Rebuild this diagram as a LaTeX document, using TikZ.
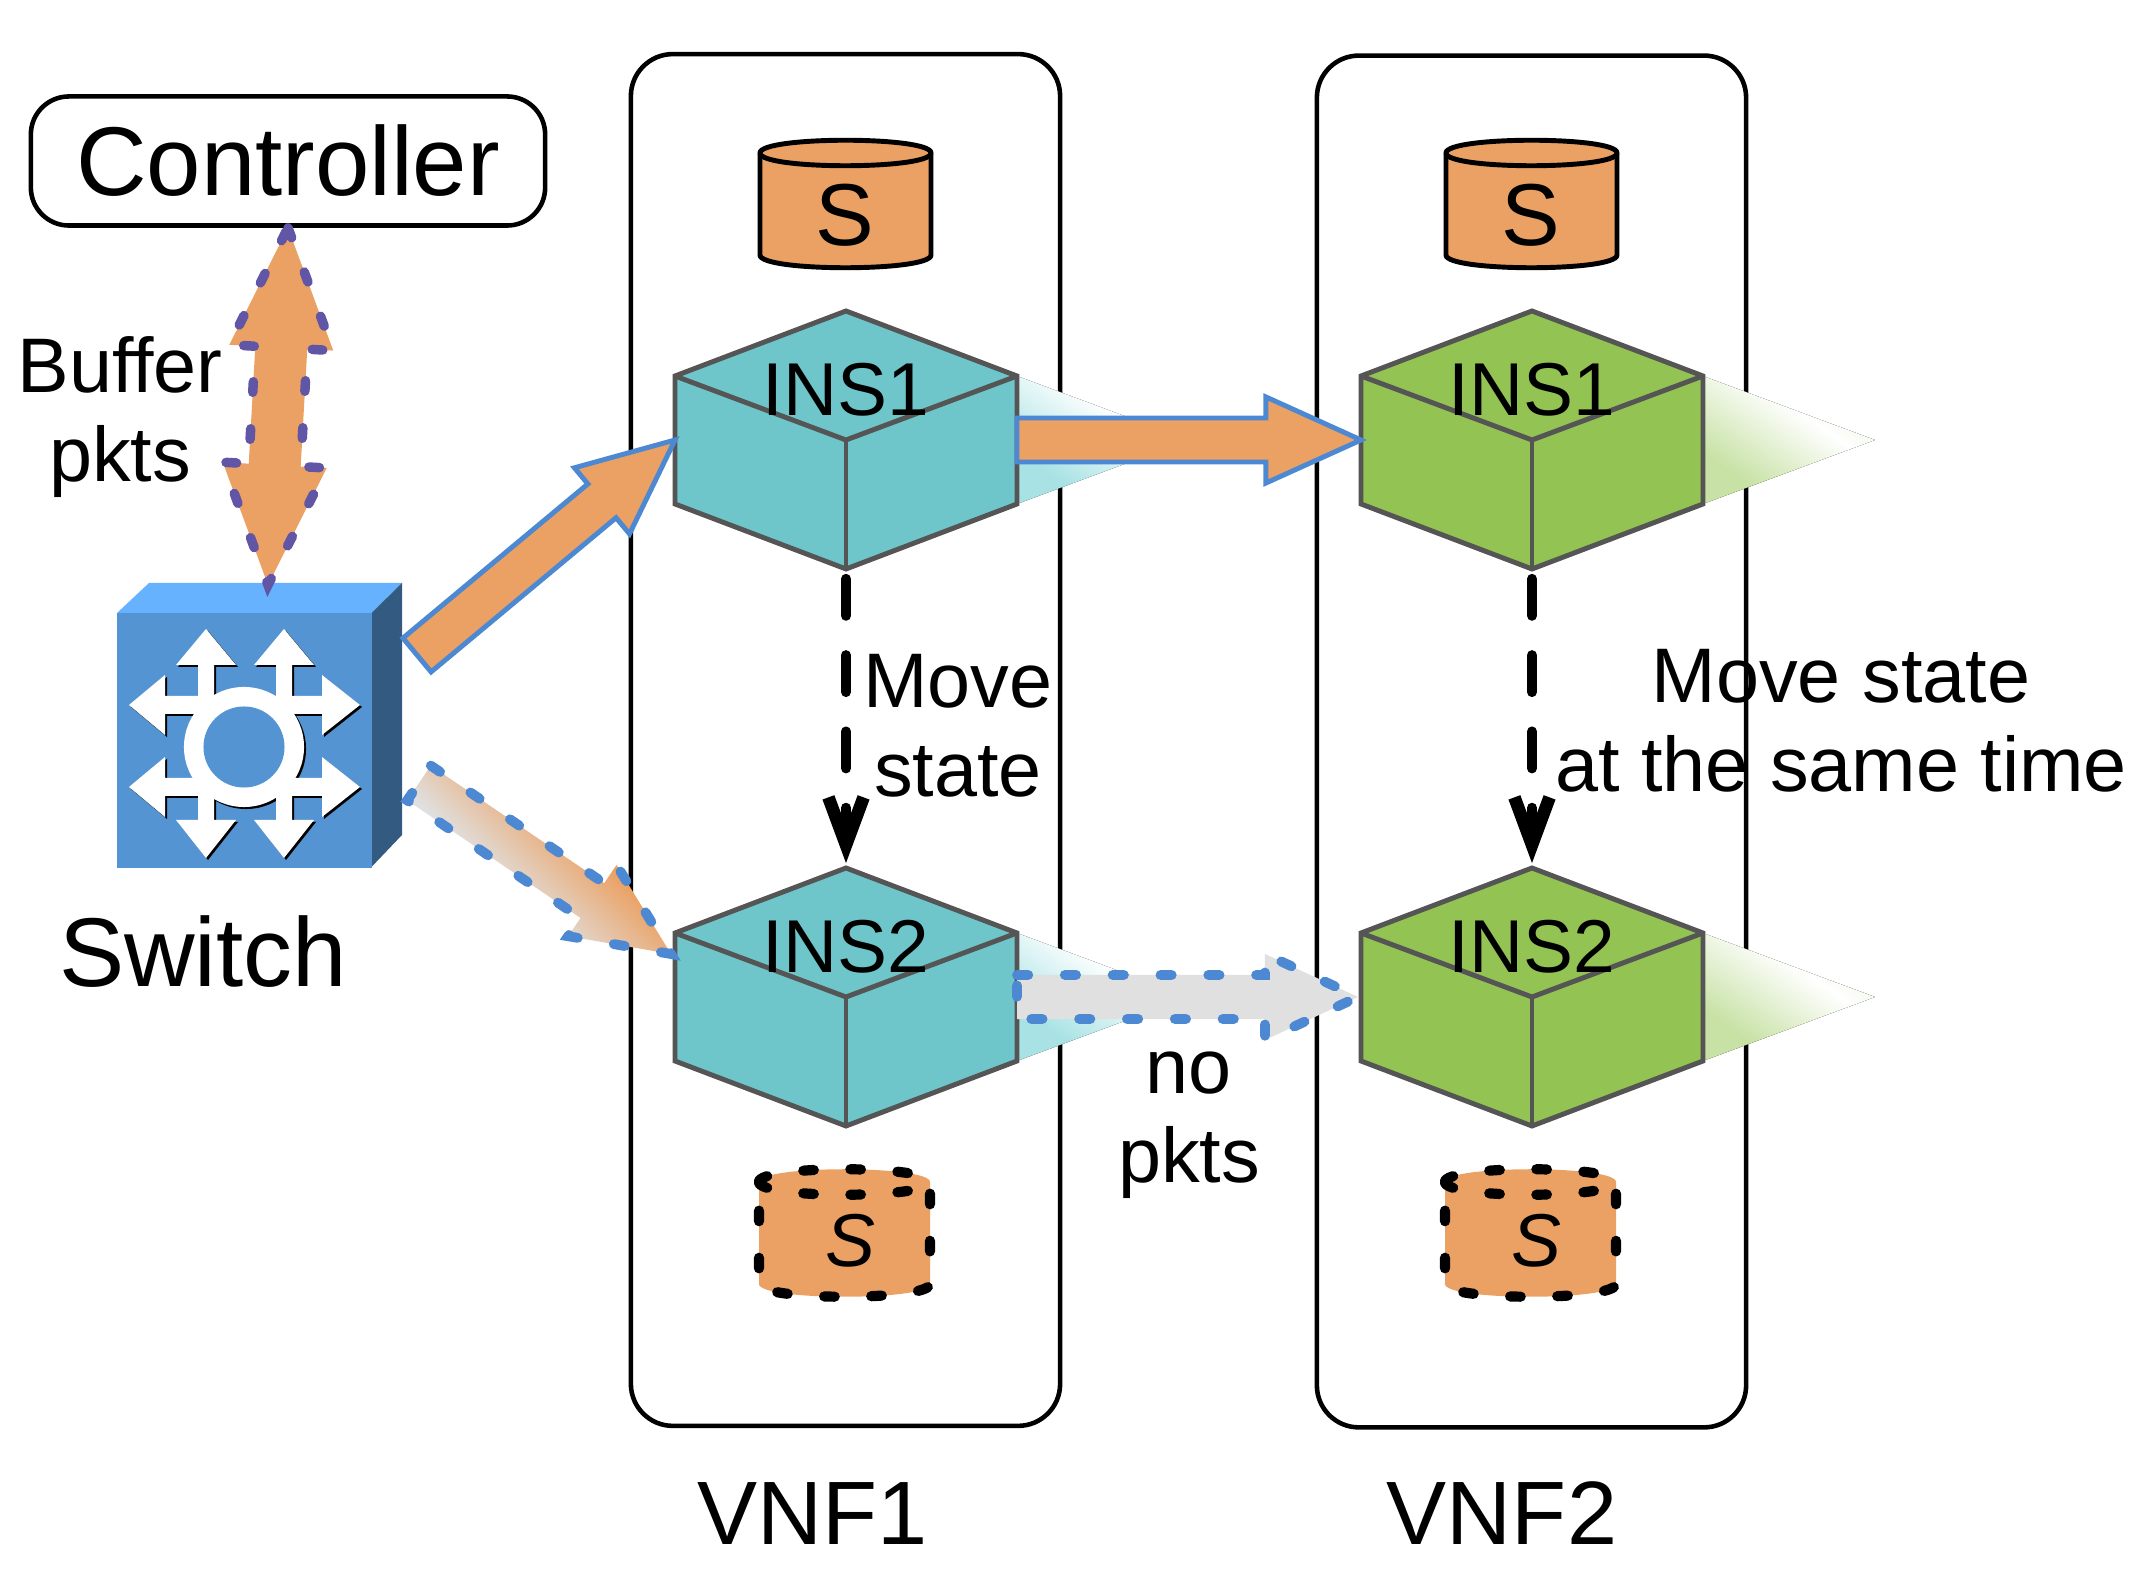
\documentclass[tikz,border=0pt]{standalone}
\usepackage{fontspec}
\setmainfont{Liberation Sans}
\usetikzlibrary{arrows.meta,calc}

\definecolor{pktorange}{HTML}{EBA163}
\definecolor{pktgrey}{HTML}{E0E0E0}
\definecolor{pktblue}{HTML}{4D88D2}
\definecolor{bufpurple}{HTML}{6155A6}
\definecolor{tealins}{HTML}{6EC6CA}
\definecolor{greenins}{HTML}{92C353}
\definecolor{cubeline}{HTML}{555555}
\definecolor{swfront}{HTML}{5594D2}
\definecolor{swtop}{HTML}{66B2FF}
\definecolor{swside}{HTML}{335A80}
\definecolor{tealsoft}{HTML}{A8E2E4}
\definecolor{greensoft}{HTML}{C8E2A6}

\pgfdeclarehorizontalshading{tealinsfade}{100bp}{color(0bp)=(tealsoft); color(30bp)=(tealsoft); color(60bp)=(white); color(100bp)=(tealsoft)}
\pgfdeclarehorizontalshading{greeninsfade}{100bp}{color(0bp)=(greensoft); color(30bp)=(greensoft); color(60bp)=(white); color(100bp)=(greensoft)}
\pgfdeclarehorizontalshading{pktfade}{100bp}{color(0bp)=(pktgrey); color(40bp)=(pktgrey); color(60bp)=(pktorange); color(100bp)=(pktorange)}

\tikzset{
  biglabel/.style={font=\fontsize{27.8}{30}\selectfont, inner sep=0pt},
  vnflabel/.style={font=\fontsize{25.6}{30}\selectfont, inner sep=0pt},
  midlabel/.style={font=\fontsize{22}{25.2}\selectfont, align=center, inner sep=0pt},
  inslabel/.style={font=\fontsize{21.3}{25.2}\selectfont, inner sep=0pt},
  vnfbox/.style={draw, line width=1.3pt, rounded corners=0.42cm, minimum width=4.29cm, minimum height=13.71cm},
  cubeedge/.style={draw=cubeline, line width=1.4pt},
  dbsolid/.style={draw, line width=1.4pt},
  dbdotted/.style={draw, line width=2.9pt, line cap=round, dash pattern=on 3pt off 10.4pt},
  movestate/.style={line width=2.85pt, line cap=round, dash pattern=on 10.5pt off 11.2pt,
    shorten <=2.8pt, shorten >=1.4pt, -{Straight Barb[length=13.5pt,width=10pt,line width=3.6pt]}},
  livearrow/.style={fill=pktorange, draw=pktblue, line width=1.4pt},
  bluedash/.style={draw=pktblue, line width=2.8pt, line cap=round, dash pattern=on 3.2pt off 10.4pt},
  buffarrow/.style={fill=pktorange, draw=none, postaction={draw=bufpurple, line width=2.7pt, line cap=round, dash pattern=on 3pt off 10.4pt}},
}

% style, from, to, half shaft, half head, head length
\newcommand{\blockarrow}[6]{
  \draw[#1] ($(#2)!#4!90:(#3)$)
    -- ($($(#3)!#6!(#2)$)!#4!90:(#3)$)
    -- ($($(#3)!#6!(#2)$)!#5!90:(#3)$)
    -- (#3)
    -- ($($(#3)!#6!(#2)$)!#5!-90:(#3)$)
    -- ($($(#3)!#6!(#2)$)!#4!-90:(#3)$)
    -- ($(#2)!#4!-90:(#3)$) -- cycle;
}

% name, centre x, centre y, colour, label
\newcommand{\vnfins}[5]{
  \begin{scope}[shift={(#2,#3)}]
    \fill[shading=#4fade, shading angle=55] (171,-64) -- (343,0) -- (171,64) -- cycle;
    \path[fill=#4] (0,-129) -- (171,-64) -- (171,64) -- (0,129) -- (-171,64) -- (-171,-64) -- cycle;
    \draw[cubeedge] (0,-129) -- (171,-64) -- (171,64) -- (0,129) -- (-171,64) -- (-171,-64) -- cycle;
    \draw[cubeedge] (-171,-64) -- (0,0) -- (171,-64);
    \draw[cubeedge] (0,0) -- (0,129);
    \coordinate (#1west) at (-171,0);
    \coordinate (#1east) at (171,0);
    \coordinate (#1top) at (0,-129);
    \coordinate (#1bot) at (0,129);
    \node (#1text) [inslabel, anchor=base] at (0,-24) {#5};
  \end{scope}
}

% style, centre x, y of upper ellipse
\newcommand{\statedb}[3]{
  \begin{scope}[shift={(#2,#3)}]
    \path[fill=pktorange, #1] (-85.5,0) .. controls (-85.5,-17) and (85.5,-17) .. (85.5,0)
      -- (85.5,102) .. controls (85.5,119) and (-85.5,119) .. (-85.5,102) -- cycle;
    \path[#1] (-85.5,0) .. controls (-85.5,17) and (85.5,17) .. (85.5,0);
  \end{scope}
}

% colour, shift of the icon on the switch
\newcommand{\switchicon}[2]{
  \begin{scope}[shift={(#2,#2)}]
    \foreach \x in {206,284} {
      \fill[#1] (\x,629) -- (\x+30,665) -- (\x+8,665) -- (\x+8,820) -- (\x+30,820) -- (\x,858)
        -- (\x-30,820) -- (\x-8,820) -- (\x-8,665) -- (\x-30,665) -- cycle;
    }
    \foreach \y in {705,787} {
      \fill[#1] (129,\y) -- (165,\y-30) -- (165,\y-9) -- (322,\y-9) -- (322,\y-30) -- (360,\y)
        -- (322,\y+30) -- (322,\y+9) -- (165,\y+9) -- (165,\y+30) -- cycle;
    }
    \fill[#1] (244,747) circle [radius=0.6cm];
  \end{scope}
}

\begin{document}
\begin{tikzpicture}[x=0.01cm, y=-0.01cm]
  \useasboundingbox (0,0) rectangle (2138,1589);

  % the two VNF frames
  \node (vnfone) [vnfbox] at (845.5,740) {};
  \node (vnftwo) [vnfbox] at (1531.5,741.5) {};
  \node (vnfonetext) [vnflabel, anchor=base] at (813,1545) {VNF1};
  \node (vnftwotext) [vnflabel, anchor=base] at (1502,1545) {VNF2};

  % controller
  \node (controller) [draw, line width=1.3pt, rounded corners=0.38cm, minimum width=5.14cm,
    minimum height=1.29cm] at (288,161) {};
  \node (controllertext) [biglabel, anchor=base] at (288,196) {Controller};

  % switch
  \fill[swtop] (149,583) -- (402,583) -- (371.5,613) -- (117,613) -- cycle;
  \fill[swside] (371.5,613) -- (402,583) -- (402,835) -- (371.5,867) -- cycle;
  \fill[swfront] (117,613) rectangle (371.5,868);
  \switchicon{black}{2}
  \switchicon{white}{0}
  \fill[swfront] (244,747) circle [radius=0.405cm];
  \node (switchtext) [biglabel, anchor=base] at (203,987) {Switch};
  \coordinate (swup) at (268,585);
  \coordinate (swhigh) at (417,655);
  \coordinate (swlow) at (419,783);
  \coordinate (instwoin) at (671,954);

  % instances
  \vnfins{insa}{846}{440}{tealins}{INS1}
  \vnfins{insb}{846}{997}{tealins}{INS2}
  \vnfins{insc}{1532}{440}{greenins}{INS1}
  \vnfins{insd}{1532}{997}{greenins}{INS2}
  \coordinate (insdin) at (1358,997);

  % states
  \statedb{dbsolid}{845.5}{153}
  \statedb{dbsolid}{1531.5}{153}
  \node (sa) [inslabel, anchor=base, font=\fontsize{25}{25}\selectfont] at (845,246) {S};
  \node (sb) [inslabel, anchor=base, font=\fontsize{25}{25}\selectfont] at (1531,246) {S};
  \statedb{dbdotted}{844.5}{1182}
  \statedb{dbdotted}{1530.5}{1182}
  \node (sc) [inslabel, anchor=base] at (850,1267) {\itshape S};
  \node (sd) [inslabel, anchor=base] at (1536,1267) {\itshape S};

  % moving the state down
  \draw[movestate] (insabot) -- (insbtop);
  \draw[movestate] (inscbot) -- (insdtop);

  % packets
  \path[buffarrow] (controller.south)
    -- ($($(controller.south)!1.2cm!(swup)$)!0.52cm!90:(swup)$)
    -- ($($(controller.south)!1.2cm!(swup)$)!0.26cm!90:(swup)$)
    -- ($($(swup)!1.2cm!(controller.south)$)!0.26cm!-90:(controller.south)$)
    -- ($($(swup)!1.2cm!(controller.south)$)!0.52cm!-90:(controller.south)$)
    -- (swup)
    -- ($($(swup)!1.2cm!(controller.south)$)!0.52cm!90:(controller.south)$)
    -- ($($(swup)!1.2cm!(controller.south)$)!0.26cm!90:(controller.south)$)
    -- ($($(controller.south)!1.2cm!(swup)$)!0.26cm!-90:(swup)$)
    -- ($($(controller.south)!1.2cm!(swup)$)!0.52cm!-90:(swup)$) -- cycle;
  \blockarrow{livearrow}{swhigh}{insawest}{0.22cm}{0.43cm}{0.95cm}
  \blockarrow{livearrow}{insaeast}{inscwest}{0.22cm}{0.43cm}{0.95cm}
  \blockarrow{bluedash, preaction={draw=none, shading=pktfade, shading angle=45}}{swlow}{instwoin}{0.21cm}{0.43cm}{0.95cm}
  \blockarrow{bluedash, preaction={draw=none, fill=pktgrey}}{insbeast}{insdin}{0.22cm}{0.43cm}{0.93cm}

  % text beside the arrows
  \node (buffertext) [midlabel] at (120,417) {Buffer\\pkts};
  \node (moveonetext) [midlabel] at (958,726) {Move\\state};
  \node (movetwotext) [midlabel] at (1841,721) {Move state\\at the same time};
  \node (nopktstext) [midlabel] at (1189,1125) {no\\pkts};
\end{tikzpicture}
\end{document}
